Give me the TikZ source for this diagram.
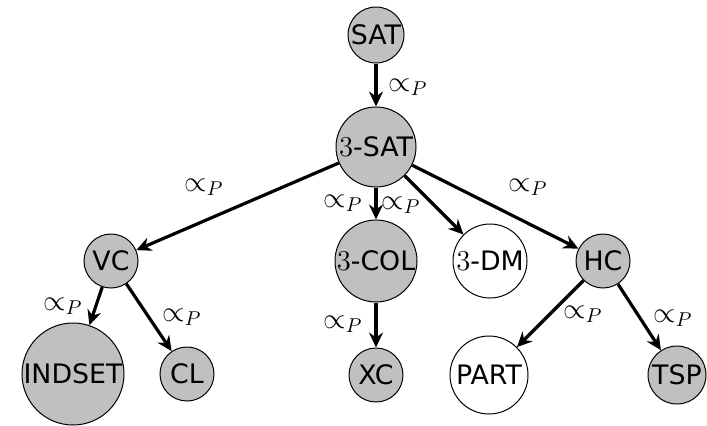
\documentclass[tikz,border=0pt]{standalone}
\usepackage{fontspec}
\setsansfont[Scale=0.93]{DejaVu Sans}
\usetikzlibrary{arrows.meta}
\definecolor{ndgray}{RGB}{192,192,192}
\begin{document}
\begin{tikzpicture}[x=1pt,y=1pt,
  nd/.style={circle,draw=black,line width=0.5pt,fill=ndgray,inner sep=0pt,
    font=\fontsize{14.4}{16}\selectfont\sffamily},
  wh/.style={nd,fill=white},
  arr/.style={line width=1.6pt,-{Stealth[length=7.5pt,width=7pt,inset=2.5pt]}},
  lbl/.style={inner sep=0pt,font=\fontsize{14.4}{16}\selectfont}]
\useasboundingbox (0,0) rectangle (353.5,212.5);
% nodes
\node[nd,minimum size=28pt] (sat) at (188,195) {SAT};
\node[nd,minimum size=40pt] (tsat) at (188,139) {$3$-SAT};
\node[nd,minimum size=27pt] (vc) at (55.5,82) {VC};
\node[nd,minimum size=41pt] (col) at (188,82) {$3$-COL};
\node[wh,minimum size=37pt] (dm) at (245,82) {$3$-DM};
\node[nd,minimum size=27pt] (hc) at (301.5,82) {HC};
\node[nd,minimum size=51pt] (ind) at (36.5,25.5) {INDSET};
\node[nd,minimum size=27pt] (cl) at (93.5,25.5) {CL};
\node[nd,minimum size=27pt] (xc) at (188,25) {XC};
\node[wh,minimum size=39pt] (part) at (244.5,25) {PART};
\node[nd,minimum size=29pt] (tsp) at (338.5,25) {TSP};
% arrows
\draw[arr] (sat) -- (tsat);
\draw[arr] (tsat) -- (vc);
\draw[arr] (tsat) -- (col);
\draw[arr] (tsat) -- (dm);
\draw[arr] (tsat) -- (hc);
\draw[arr] (vc) -- (ind);
\draw[arr] (vc) -- (cl);
\draw[arr] (col) -- (xc);
\draw[arr] (hc) -- (part);
\draw[arr] (hc) -- (tsp);
% labels
\node[lbl] (l1) at (204,169) {$\propto_P$};
\node[lbl] (l2) at (102,119) {$\propto_P$};
\node[lbl] (l3) at (171.5,111) {$\propto_P$};
\node[lbl] (l4) at (200.5,110) {$\propto_P$};
\node[lbl] (l5) at (264,119) {$\propto_P$};
\node[lbl] (l6) at (31.5,59.5) {$\propto_P$};
\node[lbl] (l7) at (91,54) {$\propto_P$};
\node[lbl] (l8) at (171.5,50.5) {$\propto_P$};
\node[lbl] (l9) at (291.5,55.5) {$\propto_P$};
\node[lbl] (l10) at (336.5,53.5) {$\propto_P$};
\end{tikzpicture}
\end{document}
